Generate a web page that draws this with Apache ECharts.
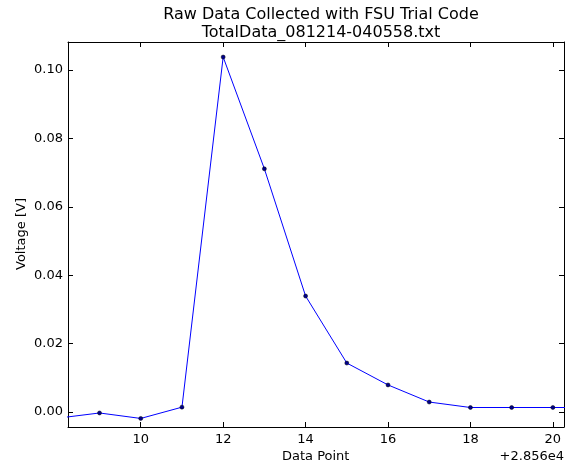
<!DOCTYPE html>
<html><head><meta charset="utf-8">
<script src="https://cdn.jsdelivr.net/npm/echarts@6/dist/echarts.min.js"></script>
<style>html,body{margin:0;padding:0;background:#fff}#c{width:565px;height:465px}</style>
</head><body><div id="c"></div>
<script>
const xValues = [8, 9, 10, 11, 12, 13, 14, 15, 16, 17, 18, 19, 20, 21];
const voltage = [-0.0018, -0.0003, -0.0019, 0.0014, 0.1038, 0.0711, 0.0339, 0.0143, 0.0079, 0.0029, 0.0013, 0.0013, 0.0013, 0.0013];
const xTicks = [10, 12, 14, 16, 18, 20];
const yTicks = [0, 0.02, 0.04, 0.06, 0.08, 0.10];
const xLabels = ['10', '12', '14', '16', '18', '20'];
const yLabels = ['0.00', '0.02', '0.04', '0.06', '0.08', '0.10'];
const titleLines = ['Raw Data Collected with FSU Trial Code', 'TotalData_081214-040558.txt'];
const xName = 'Data Point';
const yName = 'Voltage [V]';
const offsetText = '+2.856e4';

const FONT = 'DejaVu Sans';
const xMin = 8.235, xMax = 20.27, yMin = -0.0044, yMax = 0.1082;
const lineC = '#000';
function xAxis(pos, show) {
  return {
    type: 'value', position: pos, min: xMin, max: xMax,
    axisLine: { show: true, onZero: false, lineStyle: { color: lineC, width: 1 } },
    axisTick: { show: true, inside: true, length: 5, customValues: xTicks, lineStyle: { color: lineC } },
    axisLabel: { show: show, customValues: xTicks, formatter: v => xLabels[xTicks.indexOf(v)] ?? '', color: '#000', fontFamily: FONT, fontSize: 13, margin: 6 },
    splitLine: { show: false }
  };
}
function yAxis(pos, show) {
  return {
    type: 'value', position: pos, min: yMin, max: yMax,
    axisLine: { show: true, onZero: false, lineStyle: { color: lineC, width: 1 } },
    axisTick: { show: true, inside: true, length: 5, customValues: yTicks, lineStyle: { color: lineC } },
    axisLabel: { show: show, customValues: yTicks, formatter: v => { const i = yTicks.findIndex(t => Math.abs(t - v) < 1e-9); return i >= 0 ? yLabels[i] : ''; }, color: '#000', fontFamily: FONT, fontSize: 13, margin: 5 },
    splitLine: { show: false }
  };
}
const chart = echarts.init(document.getElementById('c'), null, { renderer: 'canvas' });
chart.setOption({
  animation: false,
  backgroundColor: '#fff',
  grid: { left: 68, top: 42, right: 1, bottom: 38, containLabel: false },
  title: {
    text: titleLines.join('\n'), left: 316, textAlign: 'center', top: 1,
    textStyle: { fontFamily: FONT, fontSize: 16, fontWeight: 'normal', color: '#000', lineHeight: 18 }
  },
  xAxis: [xAxis('bottom', true), xAxis('top', false)],
  yAxis: [yAxis('left', true), yAxis('right', false)],
  series: [{
    type: 'line', xAxisIndex: 0, yAxisIndex: 0,
    data: xValues.map((x, i) => [x, voltage[i]]),
    lineStyle: { color: '#0000ff', width: 1 },
    symbol: 'circle', symbolSize: 4,
    itemStyle: { color: '#00008b', borderColor: '#000', borderWidth: 0.5 },
    clip: true
  }],
  graphic: [
    { type: 'text', left: 282, top: 450, style: { text: xName, font: '13px "DejaVu Sans"', fill: '#000' } },
    { type: 'text', x: 22, y: 234, rotation: Math.PI / 2, style: { text: yName, font: '13px "DejaVu Sans"', fill: '#000', align: 'center', verticalAlign: 'middle' } },
    { type: 'text', right: 1, top: 450, style: { text: offsetText, font: '13px "DejaVu Sans"', fill: '#000' } }
  ]
});
</script></body></html>
